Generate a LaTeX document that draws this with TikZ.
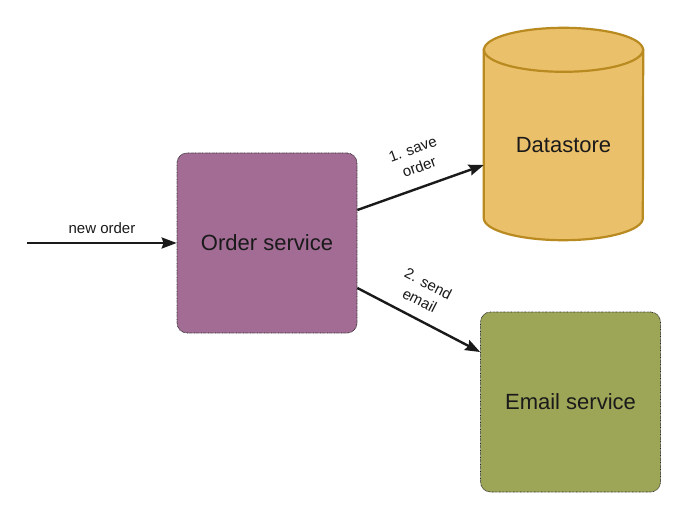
\documentclass[tikz,border=0pt]{standalone}
\usepackage{fontspec}
\setmainfont{Liberation Sans}
\usetikzlibrary{arrows.meta,backgrounds}
\definecolor{purp}{HTML}{A26C95}
\definecolor{olivebox}{HTML}{9DA557}
\definecolor{gold}{HTML}{EBC06B}
\definecolor{goldline}{HTML}{B98A1F}
\definecolor{ink}{HTML}{1A1A1A}
\tikzset{
  svc/.style={rectangle, rounded corners=10pt, minimum width=180pt, minimum height=180pt,
    draw=black!85, dash pattern=on 0.7pt off 0.7pt, line width=0.7pt,
    text=ink, font=\fontsize{22}{26}\selectfont},
  arr/.style={draw=ink, line width=2.4pt, -{Stealth[length=15pt,width=11pt,inset=2pt]}},
  lbl/.style={text=ink, font=\fontsize{15}{19}\selectfont, align=center, inner sep=0pt}
}
\begin{document}
\begin{tikzpicture}[x=1pt,y=-1pt]
\useasboundingbox (0,0) rectangle (690,513);
\node[svc, fill=purp] (os) at (267,243) {Order service};
\node[svc, fill=olivebox] (em) at (570.5,402) {Email service};
\node[rectangle, minimum width=159pt, minimum height=190pt, inner sep=0pt,
      text=ink, font=\fontsize{22}{26}\selectfont] (ds) at (563.5,145) {Datastore};
\begin{scope}[on background layer]
  \fill[white] (0,0) rectangle (690,513);
  \path[fill=gold, draw=goldline, line width=2.2pt]
    (ds.north west) -- ([yshift=22pt]ds.south west)
    arc[start angle=180, end angle=360, x radius=79.5pt, y radius=22pt]
    -- (ds.north east) -- cycle;
  \path[fill=gold, draw=goldline, line width=2.2pt]
    (ds.north) ellipse [x radius=79.5pt, y radius=22pt];
\end{scope}
\coordinate (in) at (27,243);
\draw[arr] (in) -- (os.west);
\node[lbl] (l0) at (102,228) {new order};
\draw[arr] ([yshift=33pt]os.east) -- ([yshift=-20pt]ds.west);
\draw[arr] ([yshift=-45pt]os.east) -- ([yshift=50pt]em.west);
\node[lbl, rotate=20] (l1) at (416,158) {1. save\\order};
\node[lbl, rotate=-27] (l2) at (424,292) {2. send\\email};
\end{tikzpicture}
\end{document}
